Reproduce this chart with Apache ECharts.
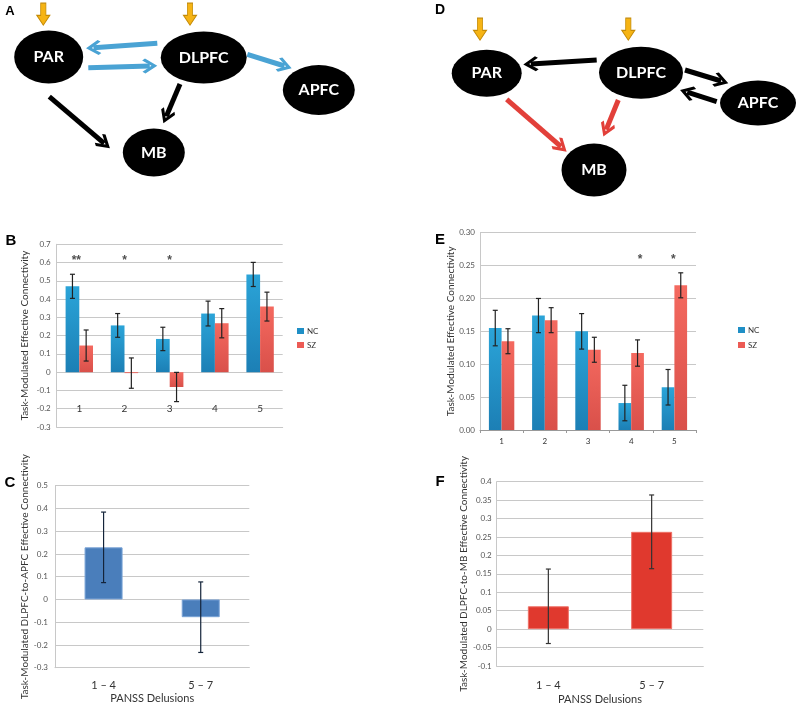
<!DOCTYPE html>
<html><head><meta charset="utf-8">
<script src="https://cdn.jsdelivr.net/npm/echarts@6/dist/echarts.min.js"></script>
<style>html,body{margin:0;padding:0;background:#fff}#c{width:796px;height:706px}</style>
</head><body><div id="c"></div>
<script>
// ---------- Data ----------
const catsB = ['1', '2', '3', '4', '5'];
const ncB = [0.47, 0.256, 0.182, 0.321, 0.535];
const ncBErr = [0.066, 0.065, 0.064, 0.068, 0.066];
const szB = [0.146, -0.005, -0.081, 0.268, 0.359];
const szBErr = [0.085, 0.083, 0.08, 0.08, 0.079];
const sigB = ['**', '*', '*', '', ''];

const catsE = ['1', '2', '3', '4', '5'];
const ncE = [0.155, 0.174, 0.150, 0.041, 0.065];
const ncEErr = [0.027, 0.026, 0.027, 0.027, 0.027];
const szE = [0.135, 0.167, 0.122, 0.117, 0.220];
const szEErr = [0.019, 0.019, 0.019, 0.02, 0.019];
const sigE = ['', '', '', '*', '*'];

const catsC = ['1 \u2013 4', '5 \u2013 7'];
const valC = [0.229, -0.078];
const errC = [0.155, 0.155];

const catsF = ['1 \u2013 4', '5 \u2013 7'];
const valF = [0.062, 0.264];
const errF = [0.101, 0.100];

// ---------- Diagram (network) layout ----------
const nodesA = [
  {name: 'PAR', pos: [48.7, 57], size: [69, 53]},
  {name: 'DLPFC', pos: [203.7, 57.5], size: [86, 52]},
  {name: 'APFC', pos: [318.8, 90], size: [72, 50]},
  {name: 'MB', pos: [153.8, 152.5], size: [62, 48]}
];
const nodesD = [
  {name: 'PAR', pos: [486.7, 73.3], size: [70, 47]},
  {name: 'DLPFC', pos: [641, 72.8], size: [84, 52]},
  {name: 'APFC', pos: [758, 103], size: [76, 45]},
  {name: 'MB', pos: [594, 170], size: [65, 53]}
];
const inputArrows = [[43.3, 14.2], [190, 14.2], [480, 29.2], [628.3, 29.2]];
const blueEdges = [
  [[157.3, 43.3], [93.5, 47.8]],
  [[88.3, 67.7], [149.8, 65.9]],
  [[247.3, 54.3], [284.5, 66]]
];
const blackEdges = [
  [[180, 84], [166.3, 116.4]],
  [[49.3, 96.7], [104.2, 143.3]],
  [[596.7, 60], [530.8, 64]],
  [[685, 70], [721.1, 81]],
  [[716.7, 101.7], [687.2, 92.2]]
];
const redEdges = [
  [[506.7, 99.3], [561, 146.7]],
  [[618.3, 100], [606.2, 129.6]]
];

// ---------- Styles ----------
const FONT = 'Lato';
const gridCol = '#c8c8c8';
const tickCol = '#555';
const chevron = 'path://M50,0 L100,50 L88,62 L50,24 L12,62 L0,50 Z';
const blockDown = 'path://M30,0 L70,0 L70,55 L100,55 L50,100 L0,55 L30,55 Z';

const grad = (a, b) => new echarts.graphic.LinearGradient(0, 0, 0, 1, [{offset: 0, color: a}, {offset: 1, color: b}]);
const ncColor = grad('#2ba4d8', '#1c7fb5');
const szColor = grad('#f4695f', '#d9504a');

function errSeries(axis, means, errs, offset, color) {
  return {
    type: 'custom', xAxisIndex: axis, yAxisIndex: axis, z: 5, silent: true,
    encode: {x: 0, y: 1},
    data: means.map((m, i) => [i, m, errs[i]]),
    renderItem(params, api) {
      const i = api.value(0), m = api.value(1), e = api.value(2);
      const x = api.coord([i, 0])[0] + offset;
      const y1 = api.coord([i, m + e])[1], y2 = api.coord([i, m - e])[1];
      const s = {stroke: color, lineWidth: 1.2};
      return {type: 'group', children: [
        {type: 'line', shape: {x1: x, y1: y1, x2: x, y2: y2}, style: s},
        {type: 'line', shape: {x1: x - 2.5, y1: y1, x2: x + 2.5, y2: y1}, style: s},
        {type: 'line', shape: {x1: x - 2.5, y1: y2, x2: x + 2.5, y2: y2}, style: s}
      ]};
    }
  };
}
function linesSeries(edges, color) {
  return {
    type: 'lines', coordinateSystem: 'cartesian2d', xAxisIndex: 0, yAxisIndex: 0,
    silent: true, z: 2,
    symbol: ['none', chevron], symbolSize: [24, 15],
    lineStyle: {color: color, width: 5, opacity: 1, curveness: 0},
    data: edges.map(e => ({coords: e}))
  };
}
function nodeSeries(nodes) {
  return {
    type: 'scatter', xAxisIndex: 0, yAxisIndex: 0, silent: true, z: 3,
    symbol: 'circle',
    itemStyle: {color: '#000', opacity: 1},
    label: {show: true, position: 'inside', color: '#fff', fontFamily: FONT, fontWeight: 'bold', fontSize: 16, formatter: p => p.name},
    data: nodes.map(n => ({name: n.name, value: n.pos, symbolSize: n.size}))
  };
}
function sigSeries(axis, sig, yv, offsets) {
  return {
    type: 'scatter', xAxisIndex: axis, yAxisIndex: axis, silent: true, z: 6,
    symbolSize: 1, itemStyle: {color: 'rgba(0,0,0,0)'},
    label: {show: true, position: 'inside', color: '#222', fontSize: 12, fontWeight: 'bold', fontFamily: 'Liberation Sans', formatter: p => p.name},
    data: sig.map((s, i) => s ? {name: s, value: [i, yv], label: {offset: [offsets[i] || 0, 0]}} : null).filter(Boolean)
  };
}
const yName = (name, gap) => ({
  name: name, nameLocation: 'middle', nameRotate: 90, nameGap: gap,
  nameTextStyle: {fontFamily: FONT, fontSize: 10, color: '#333'}
});
const yCommon = {
  type: 'value',
  axisLine: {show: true, lineStyle: {color: gridCol}},
  axisTick: {show: false},
  splitLine: {lineStyle: {color: gridCol}},
  axisLabel: {fontFamily: FONT, fontSize: 8, color: tickCol, margin: 6}
};

const chart = echarts.init(document.getElementById('c'), null, {renderer: 'canvas'});
const option = {
  backgroundColor: '#fff',
  animation: false,
  grid: [
    {left: 0, top: 0, width: 796, height: 200},
    {left: 56.7, top: 244.3, width: 226, height: 182.7},
    {left: 480, top: 232.7, width: 216, height: 197.3},
    {left: 55, top: 485.7, width: 194.3, height: 182},
    {left: 496.7, top: 481.7, width: 206.6, height: 184.3}
  ],
  xAxis: [
    {gridIndex: 0, type: 'value', min: 0, max: 796, show: false},
    {gridIndex: 1, type: 'category', data: catsB,
      axisLine: {onZero: false, lineStyle: {color: gridCol}}, axisTick: {show: false},
      axisLabel: {fontFamily: FONT, fontSize: 10, color: '#333', margin: -23}},
    {gridIndex: 2, type: 'category', data: catsE,
      axisLine: {lineStyle: {color: '#999'}}, axisTick: {show: true, length: 3, lineStyle: {color: '#999'}},
      axisLabel: {fontFamily: FONT, fontSize: 8, color: '#333', margin: 7}},
    {gridIndex: 3, type: 'category', data: catsC,
      axisLine: {onZero: false, lineStyle: {color: gridCol}}, axisTick: {show: false},
      axisLabel: {fontFamily: FONT, fontSize: 11, color: '#333', margin: 12},
      name: 'PANSS Delusions', nameLocation: 'middle', nameGap: 25,
      nameTextStyle: {fontFamily: FONT, fontSize: 11, color: '#333'}},
    {gridIndex: 4, type: 'category', data: catsF,
      axisLine: {onZero: false, lineStyle: {color: gridCol}}, axisTick: {show: false},
      axisLabel: {fontFamily: FONT, fontSize: 11, color: '#333', margin: 14},
      name: 'PANSS Delusions', nameLocation: 'middle', nameGap: 28,
      nameTextStyle: {fontFamily: FONT, fontSize: 11, color: '#333'}}
  ],
  yAxis: [
    {gridIndex: 0, type: 'value', min: 0, max: 200, inverse: true, show: false},
    Object.assign({gridIndex: 1, min: -0.3, max: 0.7, interval: 0.1}, yCommon,
      yName('Task-Modulated Effective Connectivity', 27)),
    Object.assign({gridIndex: 2, min: 0, max: 0.3, interval: 0.05}, yCommon,
      {axisLabel: Object.assign({}, yCommon.axisLabel, {formatter: v => v.toFixed(2), margin: 5})},
      yName('Task-Modulated Effective Connectivity', 14)),
    Object.assign({gridIndex: 3, min: -0.3, max: 0.5, interval: 0.1}, yCommon,
      {axisLabel: Object.assign({}, yCommon.axisLabel, {margin: 7})},
      yName('Task-Modulated DLPFC-to-APFC Effective Connectivity', 15)),
    Object.assign({gridIndex: 4, min: -0.1, max: 0.4, interval: 0.05}, yCommon,
      {axisLabel: Object.assign({}, yCommon.axisLabel, {margin: 5})},
      yName('Task-Modulated DLPFC-to-MB Effective Connectivity', 27))
  ],
  legend: [
    {left: 292, top: 322, orient: 'vertical', itemWidth: 7, itemHeight: 6, itemGap: 6, icon: 'rect',
      textStyle: {fontFamily: FONT, fontSize: 8, color: '#333', padding: [0, 0, 0, -2]},
      data: [{name: 'NC', itemStyle: {color: '#1f8fc6'}}, {name: 'SZ', itemStyle: {color: '#ec5b55'}}]},
    {left: 733, top: 321, orient: 'vertical', itemWidth: 7, itemHeight: 6, itemGap: 7, icon: 'rect',
      textStyle: {fontFamily: FONT, fontSize: 8, color: '#333', padding: [0, 0, 0, -2]},
      data: [{name: 'NC', itemStyle: {color: '#1f8fc6'}}, {name: 'SZ', itemStyle: {color: '#ec5b55'}}]}
  ],
  graphic: [
    ['A', 10, 11.7, 13], ['D', 440, 10, 14], ['B', 11, 240.7, 15],
    ['E', 440, 240, 15], ['C', 10, 483, 15], ['F', 440, 481.7, 15]
  ].map(([t, x, y, fs]) => ({
    type: 'text', x: x, y: y, z: 10, silent: true,
    style: {text: t, fill: '#000', font: 'bold ' + fs + 'px "Liberation Sans"', textAlign: 'center', textVerticalAlign: 'middle'}
  })),
  series: [
    linesSeries(blueEdges, '#4aa3d4'),
    linesSeries(blackEdges, '#000'),
    linesSeries(redEdges, '#e2403a'),
    nodeSeries(nodesA),
    nodeSeries(nodesD),
    {type: 'scatter', xAxisIndex: 0, yAxisIndex: 0, silent: true, z: 4,
      symbol: blockDown, symbolSize: [13, 22],
      itemStyle: {color: '#f6b414', borderColor: '#c48a06', borderWidth: 1, opacity: 1},
      data: inputArrows},

    // Panel B
    {type: 'bar', name: 'NC', xAxisIndex: 1, yAxisIndex: 1, data: ncB, barWidth: 13.7, barGap: '0%', itemStyle: {color: ncColor}},
    {type: 'bar', name: 'SZ', xAxisIndex: 1, yAxisIndex: 1, data: szB, barWidth: 13.7, barGap: '0%', itemStyle: {color: szColor}},
    errSeries(1, ncB, ncBErr, -6.85, '#222'),
    errSeries(1, szB, szBErr, 6.85, '#222'),
    sigSeries(1, sigB, 0.609, [-3, 0, 0]),

    // Panel E
    {type: 'bar', name: 'NC', xAxisIndex: 2, yAxisIndex: 2, data: ncE, barWidth: 12.7, barGap: '0%', itemStyle: {color: ncColor}},
    {type: 'bar', name: 'SZ', xAxisIndex: 2, yAxisIndex: 2, data: szE, barWidth: 12.7, barGap: '0%', itemStyle: {color: szColor}},
    errSeries(2, ncE, ncEErr, -6.35, '#222'),
    errSeries(2, szE, szEErr, 6.35, '#222'),
    sigSeries(2, sigE, 0.259, [0, 0, 0, 9, -1]),

    // Panel C
    {type: 'bar', name: 'C', xAxisIndex: 3, yAxisIndex: 3, data: valC, barWidth: 38,
      itemStyle: {color: '#4a7ebb', borderColor: '#79a3d6', borderWidth: 1}},
    errSeries(3, valC, errC, 0, '#14243a'),

    // Panel F
    {type: 'bar', name: 'F', xAxisIndex: 4, yAxisIndex: 4, data: valF, barWidth: 41,
      itemStyle: {color: '#e0392e', borderColor: '#ee7167', borderWidth: 1}},
    errSeries(4, valF, errF, 0, '#333')
  ]
};
chart.setOption(option);
</script></body></html>
